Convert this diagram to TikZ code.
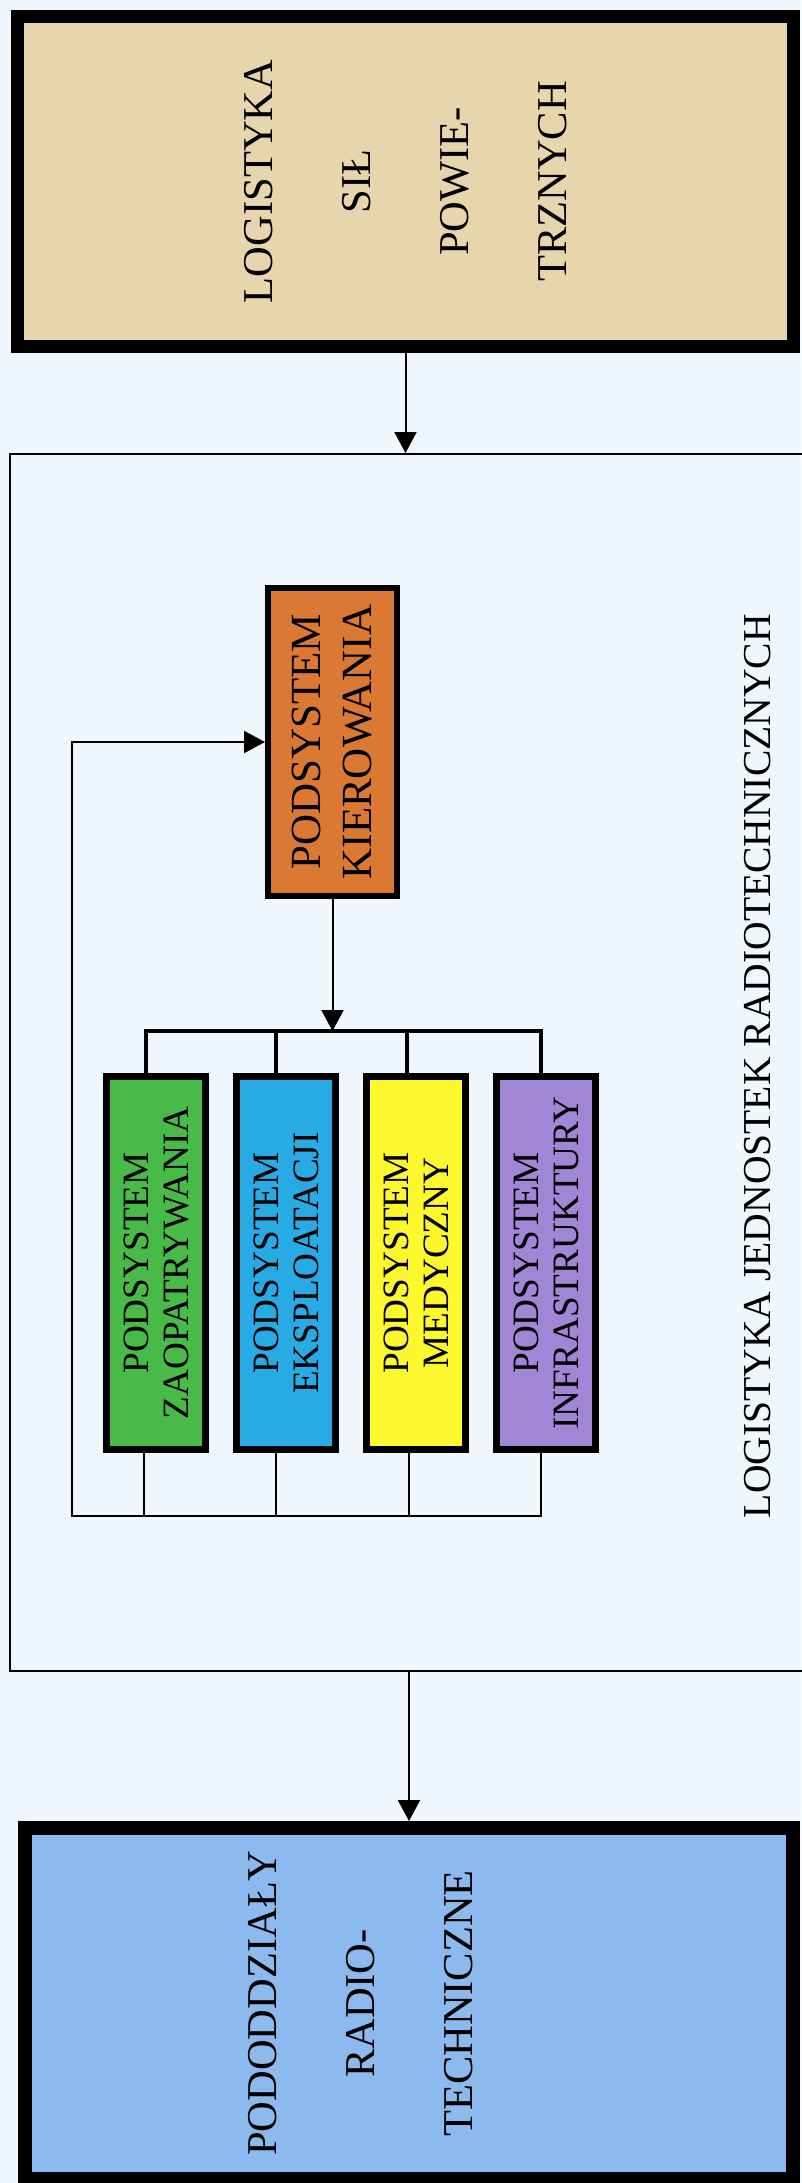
\documentclass[tikz,border=0pt]{standalone}
\usepackage{fontspec}
\setmainfont{Liberation Serif}
\usetikzlibrary{arrows.meta,positioning}
\definecolor{papercol}{RGB}{240,247,252}
\definecolor{silycol}{RGB}{231,214,173}
\definecolor{kiercol}{RGB}{219,121,52}
\definecolor{zaopcol}{RGB}{72,186,72}
\definecolor{eksplcol}{RGB}{40,170,228}
\definecolor{medcol}{RGB}{252,248,45}
\definecolor{infcol}{RGB}{160,134,212}
\definecolor{pododcol}{RGB}{141,186,238}
\newcommand{\duzyfont}{\fontsize{42.5}{98}\selectfont}
\newcommand{\kierfont}{\fontsize{43}{51}\selectfont}
\newcommand{\podfont}{\fontsize{37.2}{40}\selectfont}
\newcommand{\etykfont}{\fontsize{39.6}{47}\selectfont}

\begin{document}
\begin{tikzpicture}[
    x=1pt, y=-1pt,
    node distance=24pt,
    thickbox/.style={draw, line width=13pt, inner sep=0pt},
    subbox/.style={draw, line width=7pt, inner sep=0pt, minimum width=99pt, minimum height=373pt},
    vtext/.style={rotate=90, align=center, inner sep=0pt},
    arr/.style={-{Triangle[length=21pt,width=22pt]}, line width=2pt},
    wire/.style={line width=2pt},
    bus/.style={line width=4.5pt, line join=miter},
]
\fill[papercol] (0,0) rectangle (801,2183);
\useasboundingbox (0,0) rectangle (801,2183);

% szczebel nadrzedny
\node[thickbox, fill=silycol, minimum width=776pt, minimum height=330pt] (sp) at (405.5,181.5) {};
\node[vtext, font=\duzyfont] (sp-t) at (sp) {LOGISTYKA\\SIŁ\\POWIE-\\TRZNYCH};

% ramka jednostki (prawy bok poza kartka)
\node[draw, line width=2pt, inner sep=0pt, minimum width=805pt, minimum height=1217pt] (jrt) at (412.5,1062.5) {};
\node[vtext, font=\etykfont] (jrt-t) at (758,1066) {LOGISTYKA JEDNOSTEK RADIOTECHNICZNYCH};

\node[draw, line width=6pt, inner sep=0pt, fill=kiercol, minimum width=129pt, minimum height=308pt] (kier) at (332.5,742) {};
\node[vtext, font=\kierfont] (kier-t) at (kier) {PODSYSTEM\\KIEROWANIA};

% podsystemy wykonawcze
\node[subbox, fill=zaopcol] (zaop) at (156,1263) {};
\node[subbox, fill=eksplcol, right=of zaop] (ekspl) {};
\node[subbox, fill=medcol, right=of ekspl] (med) {};
\node[subbox, fill=infcol, right=of med] (infra) {};
\node[vtext, font=\podfont] (zaop-t) at (zaop) {PODSYSTEM\\ZAOPATRYWANIA};
\node[vtext, font=\podfont] (ekspl-t) at (ekspl) {PODSYSTEM\\EKSPLOATACJI};
\node[vtext, font=\podfont] (med-t) at (med) {PODSYSTEM\\MEDYCZNY};
\node[vtext, font=\podfont] (infra-t) at (infra) {PODSYSTEM\\INFRASTRUKTURY};

% szczebel podlegly
\node[thickbox, line width=14pt, fill=pododcol, minimum width=768pt, minimum height=351pt] (pod) at (409,2003.5) {};
\node[vtext, font=\duzyfont] (pod-t) at (pod) {PODODDZIAŁY\\RADIO-\\TECHNICZNE\\\mbox{}};

\coordinate (bus) at (333,1031);
\coordinate (zb) at (72,1516);

\draw[arr] (sp.south) -- (sp.south |- jrt.north);
\draw[arr] (pod.north |- jrt.south) -- (pod.north);
\draw[arr] (kier.south) -- (kier.south |- bus);

% szyna rozdzielcza
\draw[bus] ([xshift=-10pt]zaop.north) -- ([xshift=-10pt]zaop.north |- bus) -- ([xshift=-5pt]infra.north |- bus) -- ([xshift=-5pt]infra.north);
\draw[bus] ([xshift=-10pt]ekspl.north) -- ([xshift=-10pt]ekspl.north |- bus);
\draw[bus] ([xshift=-9pt]med.north) -- ([xshift=-9pt]med.north |- bus);

% sprzezenie zwrotne
\draw[wire] ([xshift=-12pt]zaop.south) -- ([xshift=-12pt]zaop.south |- zb);
\draw[wire] ([xshift=-10pt]ekspl.south) -- ([xshift=-10pt]ekspl.south |- zb);
\draw[wire] ([xshift=-7pt]med.south) -- ([xshift=-7pt]med.south |- zb);
\draw[arr] ([xshift=-5pt]infra.south) |- (zb) |- (kier.west);
\end{tikzpicture}
\end{document}
